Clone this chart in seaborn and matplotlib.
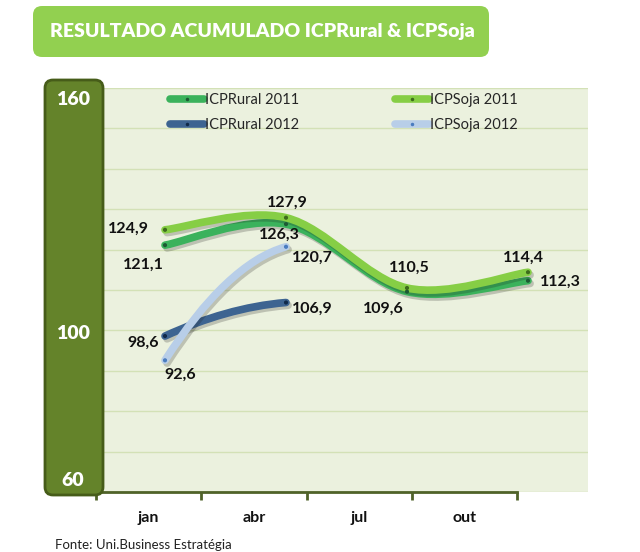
"""Resultado acumulado ICPRural & ICPSoja — linhas suavizadas estilo Excel"""

import numpy as np
import pandas as pd
import matplotlib
matplotlib.use('Agg')
import matplotlib.pyplot as plt
import matplotlib.patheffects as pe
import seaborn as sns
from matplotlib.path import Path
from matplotlib.patches import PathPatch, FancyBboxPatch
from matplotlib.lines import Line2D
from matplotlib.transforms import blended_transform_factory, IdentityTransform, offset_copy

# dados
months = ['jan', 'abr', 'jul', 'out']
rural_2011 = [121.1, 126.3, 109.6, 112.3]
soja_2011 = [124.9, 127.9, 110.5, 114.4]
rural_2012 = [98.6, 106.9]
soja_2012 = [92.6, 120.7]
bar_labels = [60, 100, 160]

title = 'RESULTADO ACUMULADO ICPRural & ICPSoja'
source = 'Fonte: Uni.Business Estratégia'

sns.set_theme(style='white')
plt.rcParams['font.family'] = ['Lato', 'DejaVu Sans']

# (nome, valores, cor da linha, cor do ponto, deslocamento dos rótulos em px)
series = [
    ('ICPRural 2011', rural_2011, '#3bb25c', '#1d5a34', [(-22, -20), (-7, -11), (-24, -17), (32, -1)]),
    ('ICPSoja 2011', soja_2011, '#86ce45', '#3d6b1c', [(-37, 1), (1, 15), (2, 20), (-5, 14)]),
    ('ICPRural 2012', rural_2012, '#3d6491', '#102a4a', [(-22, -7), (26, -6)]),
    ('ICPSoja 2012', soja_2012, '#b8cee8', '#4a7cc0', [(15, -15), (26, -11)]),
]
draw_order = [2, 3, 0, 1]


def smooth_path(xs, ys):
    """Curva Bézier tipo Catmull-Rom (suavização do Excel) passando pelos pontos."""
    pts = np.column_stack([xs, ys]).astype(float)
    verts, codes = [pts[0]], [Path.MOVETO]
    n = len(pts)
    if n == 2:
        # com só dois pontos o original achata a curva perto do fim
        d = pts[1] - pts[0]
        verts += [pts[0] + d * [1 / 3, 0.55], pts[1] - d * [1 / 3, 0.1], pts[1]]
        return Path(verts, codes + [Path.CURVE4] * 3)
    for i in range(n - 1):
        p0, p1, p2, p3 = pts[max(i - 1, 0)], pts[i], pts[i + 1], pts[min(i + 2, n - 1)]
        verts += [p1 + (p2 - p0) / 6, p2 - (p3 - p1) / 6, p2]
        codes += [Path.CURVE4] * 3
    return Path(verts, codes)


fig = plt.figure(figsize=(6.4, 5.52), dpi=100)
fig.patch.set_facecolor('white')
ax = fig.add_axes([96 / 640, 1 - 492 / 552, 492 / 640, 404 / 552])
ax.set_facecolor('#ebf1de')

# eixo y 60–160, grade a cada 10
ax.set_ylim(60, 160)
ax.set_yticks(np.arange(60, 161, 10))
ax.set_yticklabels([])
ax.tick_params(axis='y', length=0)
ax.grid(axis='y', color='#d3e1b6', lw=1)
ax.grid(axis='x', visible=False)
# pontos x=0..3 ficam deslocados em relação às categorias (como no original)
x0_frac, x3_frac = (165 - 96) / 492, (528 - 96) / 492
unit = (x3_frac - x0_frac) / 3
ax.set_xlim(-x0_frac / unit, (1 - x0_frac) / unit)
ax.set_xticks([])
for s in ax.spines.values():
    s.set_visible(False)

rows = []
for k in draw_order:
    name, vals, lc, dc, offs = series[k]
    xs = np.arange(len(vals))
    patch = PathPatch(smooth_path(xs, vals), fill=False, edgecolor=lc, lw=5.5,
                      capstyle='round', joinstyle='round', zorder=3 + k * 0.1,
                      path_effects=[pe.SimpleLineShadow(offset=(1.5, -2), alpha=0.22),
                                    pe.Normal()])
    ax.add_patch(patch)
    for x, v, off in zip(xs, vals, offs):
        rows.append({'x': x, 'v': v, 'serie': name})
        ax.annotate(f'{v:.1f}'.replace('.', ','), (x, v), xytext=off,
                    textcoords='offset pixels', ha='center', va='center',
                    fontsize=11.5, fontweight='bold', color='#111111', zorder=6)

df = pd.DataFrame(rows)
sns.scatterplot(data=df, x='x', y='v', hue='serie', ax=ax, s=9, linewidth=0,
                palette={s[0]: s[3] for s in series}, legend=False, zorder=5)
ax.set_xlabel('')
ax.set_ylabel('')

leg_order = [0, 2, 1, 3]
handles = [Line2D([], [], color=series[i][2], lw=5.5, solid_capstyle='round',
                  marker='.', markersize=3, markerfacecolor=series[i][3],
                  markeredgecolor=series[i][3]) for i in leg_order]
labels = [series[i][0] for i in leg_order]
ax.legend(handles, labels, ncol=2, loc='upper left', frameon=False,
          bbox_to_anchor=((170 - 96) / 492, (492 - 93) / 404), borderaxespad=0,
          borderpad=0, handlelength=2.3, handletextpad=0.1, columnspacing=6.6,
          labelspacing=0.75, fontsize=10.5)

# eixo de categorias (mais curto que a área de plotagem)
axis_frac = (517 - 96) / 492
ax2 = ax.twiny()
ax2.set_xlim(0, len(months) / axis_frac)
ax2.xaxis.tick_bottom()
for side in ['top', 'left', 'right']:
    ax2.spines[side].set_visible(False)
ax2.spines['bottom'].set_visible(True)
ax2.spines['bottom'].set_color('#4f6228')
ax2.spines['bottom'].set_linewidth(2)
ax2.spines['bottom'].set_bounds(0, len(months))
ax2.set_xticks(np.arange(len(months) + 1))
ax2.set_xticklabels([])
ax2.set_xticks(np.arange(len(months)) + 0.5, minor=True)
ax2.set_xticklabels(months, minor=True, fontsize=11.5, fontweight='bold', color='#111111')
ax2.tick_params(axis='x', which='major', direction='out', length=6, width=2,
                color='#4f6228', bottom=True)
ax2.tick_params(axis='x', which='minor', length=0, pad=14, bottom=True)
ax2.grid(False)

# barra verde do eixo y
bar = FancyBboxPatch((45, 552 - 495), 58, 415, boxstyle='round,pad=0,rounding_size=8',
                     transform=IdentityTransform(), facecolor='#64832a',
                     edgecolor='#465c19', lw=2, zorder=2)
fig.add_artist(bar)
tr = blended_transform_factory(fig.transFigure, ax.transData)
lo, hi = min(bar_labels), max(bar_labels)
for v in bar_labels:
    va = 'bottom' if v == lo else ('top' if v == hi else 'center')
    dy = 3 if v == lo else -3
    fig.text(73 / 640, v, str(v), transform=offset_copy(tr, fig=fig, y=dy, units='dots'),
             ha='center', va=va, color='white', fontsize=14, fontweight='heavy', zorder=10)

# faixa do título
banner = FancyBboxPatch((33, 552 - 57), 456, 51, boxstyle='round,pad=0,rounding_size=9',
                        transform=IdentityTransform(), facecolor='#92d050',
                        edgecolor='none', zorder=2)
fig.add_artist(banner)
fig.text(262 / 640, 1 - 31 / 552, title, ha='center', va='center', color='white',
         fontsize=14, fontweight='heavy', zorder=3)

fig.text(55 / 640, 1 - 545 / 552, source, ha='left', va='center', fontsize=9.5,
         color='#222222')

fig.savefig('out.png', dpi=100)
